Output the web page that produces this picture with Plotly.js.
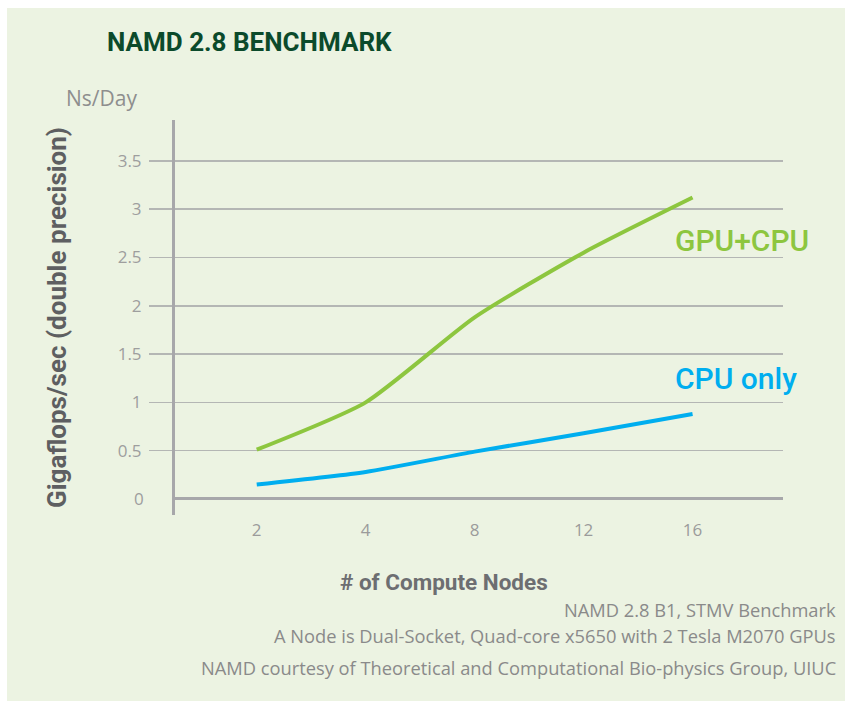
<!DOCTYPE html>
<html>
<head>
<meta charset="utf-8">
<script src="https://cdn.plot.ly/plotly-3.0.1.min.js"></script>
<style>
  body { margin: 0; background: #ffffff; }
  #chart { position: absolute; left: 7px; top: 8px; width: 838px; height: 693px; }
</style>
</head>
<body>
<div id="chart"></div>
<script>
// compute nodes (categories) and Ns/Day values
var nodes = ['2', '4', '8', '12', '16'];
var gpuCpu = [0.51, 1.0, 1.88, 2.55, 3.12];
var cpuOnly = [0.15, 0.28, 0.49, 0.68, 0.88];
var yTicks = [0.5, 1, 1.5, 2, 2.5, 3, 3.5];

var green = '#8DC63F';
var blue = '#00AEEF';
var axisGray = '#A7A7AA';
var light = 'Open Sans, Roboto, sans-serif';

var gpuTrace = {
    x: nodes,
    y: gpuCpu,
    mode: 'lines',
    name: 'GPU+CPU',
    line: { color: green, width: 4, shape: 'spline', smoothing: 0.6 }
};
var cpuTrace = {
    x: nodes,
    y: cpuOnly,
    mode: 'lines',
    name: 'CPU only',
    line: { color: blue, width: 4, shape: 'spline', smoothing: 0.6 }
};

var layout = {
    paper_bgcolor: '#ECF3E2',
    plot_bgcolor: 'rgba(0,0,0,0)',
    showlegend: false,
    margin: { l: 168, r: 62, t: 112, b: 186 },
    title: {
        text: 'NAMD 2.8 BENCHMARK',
        font: { family: 'Roboto, sans-serif', size: 26, color: '#0B4A2B', weight: 700 },
        xref: 'container', x: 100 / 838, xanchor: 'left',
        yref: 'container', y: 1 - 34 / 693, yanchor: 'middle'
    },
    xaxis: {
        type: 'category',
        range: [-0.75, 4.83],
        showgrid: false,
        zeroline: false,
        showline: false,
        ticks: '',
        ticklabelstandoff: 3,
        tickfont: { family: light, size: 17, color: '#9B9B9B' },
        fixedrange: true
    },
    yaxis: {
        range: [-0.166, 3.923],
        tickvals: yTicks,
        ticktext: yTicks.map(String),
        showgrid: true,
        gridcolor: '#B4B6B4',
        gridwidth: 1.5,
        ticks: 'outside',
        ticklen: 23,
        tickwidth: 1.5,
        tickcolor: '#B4B6B4',
        ticklabelstandoff: 4,
        tickfont: { family: light, size: 17, color: '#9E9E9E' },
        showline: true,
        linecolor: axisGray,
        linewidth: 3,
        zeroline: true,
        zerolinecolor: axisGray,
        zerolinewidth: 3,
        title: {
            text: '<b>Gigaflops/sec (double precision)</b>',
            font: { family: 'Roboto, sans-serif', size: 26, color: '#5E5F61' },
            standoff: 44
        },
        automargin: false,
        fixedrange: true
    },
    annotations: [
        { text: '0', xref: 'paper', x: 0, xshift: -29, xanchor: 'right', yref: 'y', y: 0,
          yanchor: 'middle', showarrow: false, font: { family: light, size: 17, color: '#9E9E9E' } },
        { text: 'Ns/Day', xref: 'paper', x: -0.182, xanchor: 'left', yref: 'paper', y: 1.056,
          yanchor: 'middle', showarrow: false, font: { family: light, size: 21, color: '#8E8E8E' } },
        { text: 'GPU+CPU', xref: 'x', x: 3.82, xanchor: 'left', yref: 'y', y: 2.68,
          yanchor: 'middle', showarrow: false, font: { family: 'Roboto, sans-serif', size: 30, color: green, weight: 500 } },
        { text: 'CPU only', xref: 'x', x: 3.82, xanchor: 'left', yref: 'y', y: 1.25,
          yanchor: 'middle', showarrow: false, font: { family: 'Roboto, sans-serif', size: 30, color: blue, weight: 500 } },
        { text: '<b># of Compute Nodes</b>', xref: 'paper', x: (444 - 175) / 608, xanchor: 'center',
          yref: 'paper', y: (507 - 574) / 395, yanchor: 'middle', showarrow: false,
          font: { family: 'Roboto, sans-serif', size: 22.5, color: '#6D6E71' } },
        { text: 'NAMD 2.8 B1, STMV Benchmark', xref: 'paper', x: 1.0905, xanchor: 'right',
          yref: 'paper', y: -0.2405, yanchor: 'middle', showarrow: false,
          font: { family: light, size: 18.3, color: '#8A8A8A' } },
        { text: 'A Node is Dual-Socket, Quad-core x5650 with 2 Tesla M2070 GPUs', xref: 'paper', x: 1.0905, xanchor: 'right',
          yref: 'paper', y: -0.3038, yanchor: 'middle', showarrow: false,
          font: { family: light, size: 18.3, color: '#8A8A8A' } },
        { text: 'NAMD courtesy of Theoretical and Computational Bio-physics Group, UIUC', xref: 'paper', x: 1.0905, xanchor: 'right',
          yref: 'paper', y: -0.3873, yanchor: 'middle', showarrow: false,
          font: { family: light, size: 18.3, color: '#8A8A8A' } }
    ]
};

Plotly.newPlot('chart', [gpuTrace, cpuTrace], layout, { displayModeBar: false, staticPlot: true });
</script>
</body>
</html>
